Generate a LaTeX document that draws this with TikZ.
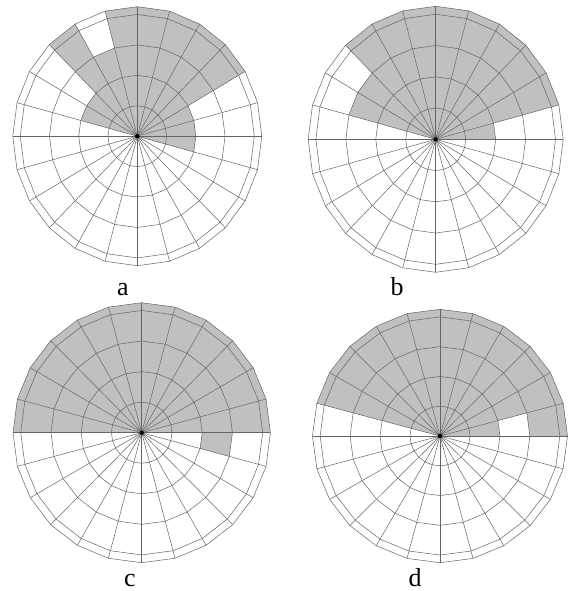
\documentclass[tikz,border=0pt]{standalone}
\usepackage{fontspec}
\setmainfont{Liberation Serif}
\usetikzlibrary{positioning}

\definecolor{gridgray}{HTML}{646464}
\definecolor{cellgray}{HTML}{C0C0C0}

\tikzset{
    gridline/.style={draw=gridgray, line width=0.5pt, line join=round},
    cell/.style={fill=cellgray},
    panellabel/.style={font=\fontsize{26}{26}\selectfont, inner sep=0pt, anchor=base}
}

% one shaded cell: sector #1 (15 degrees each), radius #2 to #3
\newcommand{\shadecell}[3]{%
    \fill[cell] ({15*#1}:#2) -- ({15*#1+15}:#2) -- ({15*#1+15}:#3) -- ({15*#1}:#3) -- cycle;}

% rings, spokes and the hub
\newcommand{\polargrid}{%
    \foreach \r in {0.235,0.47,0.705,0.94,1}
        \draw[gridline] (0:\r) \foreach \a in {15,30,...,345}{ -- (\a:\r)} -- cycle;
    \foreach \a in {0,15,...,345}
        \draw[gridline] (0,0) -- (\a:1);
    \fill (0,0) circle (2.2pt);}

\begin{document}
\begin{tikzpicture}[x=1pt, y=-1pt]
    \useasboundingbox (0,0) rectangle (570,591);

    % Panel a
    \begin{scope}[shift={(137.3,136.2)}, x=124.5pt, y=129.5pt]
        \foreach \j in {23,0,1,10} \shadecell{\j}{0}{0.47};
        \foreach \j in {2,...,6,8} \shadecell{\j}{0}{1};
        \shadecell{7}{0}{0.705};
        \shadecell{9}{0}{0.47};
        \polargrid
    \end{scope}

    % Panel b
    \begin{scope}[shift={(435.7,139.3)}, x=127.5pt, y=133pt]
        \shadecell{0}{0}{0.47};
        \foreach \j in {1,...,8} \shadecell{\j}{0}{1};
        \foreach \j in {9,10} \shadecell{\j}{0}{0.705};
        \polargrid
    \end{scope}

    % Panel c
    \begin{scope}[shift={(141.7,432.7)}, x=128.7pt, y=130pt]
        \foreach \j in {0,...,11} \shadecell{\j}{0}{1};
        \shadecell{23}{0.47}{0.705};
        \polargrid
    \end{scope}

    % Panel d
    \begin{scope}[shift={(440,436)}, x=127.5pt, y=126.7pt]
        \shadecell{0}{0}{0.47};
        \shadecell{0}{0.705}{1};
        \foreach \j in {1,...,10} \shadecell{\j}{0}{1};
        \polargrid
    \end{scope}

    % Labels
    \node[panellabel] (la) at (123,295) {a};
    \node[panellabel] (lb) at (397,295) {b};
    \node[panellabel] (lc) at (130,586) {c};
    \node[panellabel] (ld) at (415,586) {d};
\end{tikzpicture}
\end{document}
